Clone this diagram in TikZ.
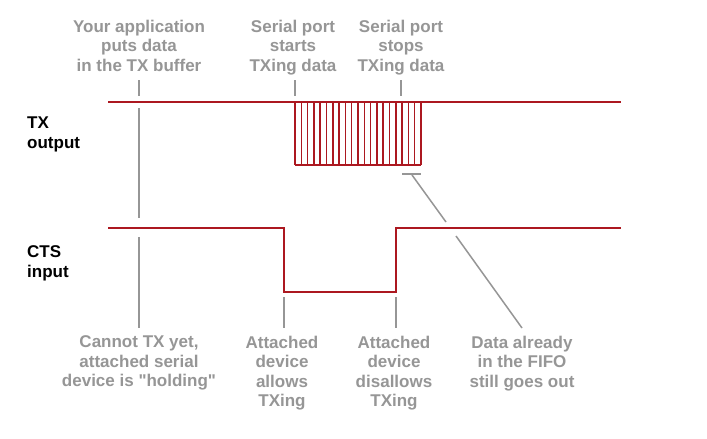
\documentclass[tikz,border=0pt]{standalone}
\usepackage{fontspec}
\setmainfont{Liberation Sans}
\definecolor{sig}{RGB}{172,24,32}
\definecolor{lbl}{RGB}{150,150,150}
\begin{document}
\begin{tikzpicture}[x=1pt,y=-1pt,
  signal/.style={draw=sig,line width=2pt},
  hatchline/.style={draw=sig,line width=1.5pt},
  marker/.style={draw=lbl,line width=1.5pt},
  note/.style={text=lbl,font=\fontsize{17}{19.5}\selectfont\bfseries,align=center,inner sep=0pt,anchor=north},
  axislabel/.style={text=black,font=\fontsize{17}{20}\selectfont\bfseries,align=left,inner sep=0pt,anchor=north west}]
\useasboundingbox[fill=white] (0,0) rectangle (707,439);

% signal traces
\coordinate (txL) at (108,102);
\coordinate (txR) at (621,102);
\coordinate (ctsL) at (108,228);
\coordinate (ctsDrop) at (284,228);
\coordinate (ctsLowL) at (284,292);
\coordinate (ctsLowR) at (396,292);
\coordinate (ctsRise) at (396,228);
\coordinate (ctsR) at (621,228);
\coordinate (hbL) at (295,165);
\coordinate (hbR) at (421,165);

\draw[signal] (txL) -- (txR);
\draw[signal] (ctsL) -- (ctsDrop) -- (ctsLowL) -- (ctsLowR) -- (ctsRise) -- (ctsR);
\draw[hatchline] (hbL) -- (hbR);
\foreach \i in {0,...,20}{
  \draw[hatchline] ({295+\i*6.3},102) -- ({295+\i*6.3},165);
}

% axis labels
\node[axislabel] (txlab) at (27,116.8) {TX\\output};
\node[axislabel] (ctslab) at (27,245.6) {CTS\\input};

% notes
\node[note] (n1) at (139,19.6) {Your application\\puts data\\in the TX buffer};
\node[note] (n2) at (293,19.6) {Serial port\\starts\\TXing data};
\node[note] (n3) at (401,19.6) {Serial port\\stops\\TXing data};
\node[note] (n4) at (139,335.6) {Cannot TX yet,\\attached serial\\device is \textquotedbl holding\textquotedbl};
\node[note] (n5) at (282,335.6) {Attached\\device\\allows\\TXing};
\node[note] (n6) at (394,335.6) {Attached\\device\\disallows\\TXing};
\node[note] (n7) at (522,335.6) {Data already\\in the FIFO\\still goes out};

% marker coordinates
\coordinate (m1a) at (139,80);  \coordinate (m1b) at (139,96);
\coordinate (m1c) at (139,108); \coordinate (m1d) at (139,218);
\coordinate (m1e) at (139,237); \coordinate (m1f) at (139,328);
\coordinate (m2a) at (295,80);  \coordinate (m2b) at (295,96);
\coordinate (m3a) at (401,80);  \coordinate (m3b) at (401,96);
\coordinate (m5a) at (284,297); \coordinate (m5b) at (284,328);
\coordinate (m6a) at (396,297); \coordinate (m6b) at (396,328);
\coordinate (m7t1) at (402,174); \coordinate (m7t2) at (421,174);
\coordinate (m7a) at (412,175); \coordinate (m7b) at (446,222);
\coordinate (m7c) at (456,236); \coordinate (m7d) at (522,328);

\draw[marker] (m1a) -- (m1b);
\draw[marker] (m1c) -- (m1d);
\draw[marker] (m1e) -- (m1f);
\draw[marker] (m2a) -- (m2b);
\draw[marker] (m3a) -- (m3b);
\draw[marker] (m5a) -- (m5b);
\draw[marker] (m6a) -- (m6b);
\draw[marker] (m7t1) -- (m7t2);
\draw[marker] (m7a) -- (m7b);
\draw[marker] (m7c) -- (m7d);
\end{tikzpicture}
\end{document}
